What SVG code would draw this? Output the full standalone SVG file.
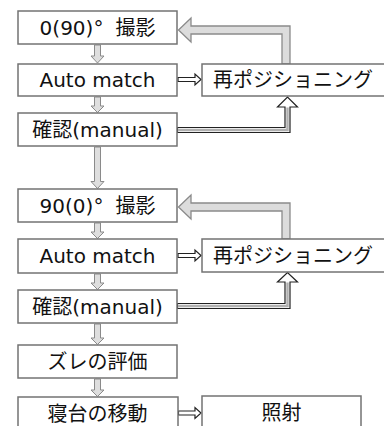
<svg xmlns="http://www.w3.org/2000/svg" width="384" height="426" viewBox="0 0 384 426">
<style>
.box{fill:#fff;stroke:#737373;stroke-width:1.5}
.t{font-family:"DejaVu Sans","Noto Sans CJK JP",sans-serif;font-size:20px;fill:#111;text-anchor:middle}
.down{fill:#dedede;stroke:#8a8a8a;stroke-width:1}
.fb{fill:#dcdcdc;stroke:#8a8a8a;stroke-width:1.3}
.dbl{fill:#fff;stroke:#222;stroke-width:1.2}
.mid{fill:none;stroke:#b0b0b0;stroke-width:2.4}
</style>
<rect width="384" height="426" fill="#fff"/>
<g id="connectors">
<polygon class="down" points="94.5,45 100.5,45 100.5,56 104,56 97.5,63 91,56 94.5,56"/>
<polygon class="down" points="94.5,97 100.5,97 100.5,106 104,106 97.5,112.5 91,106 94.5,106"/>
<polygon class="down" points="94.5,147 100.5,147 100.5,181.5 104,181.5 97.5,188.5 91,181.5 94.5,181.5"/>
<polygon class="down" points="94.5,223 100.5,223 100.5,232 104,232 97.5,238.5 91,232 94.5,232"/>
<polygon class="down" points="94.5,274 100.5,274 100.5,283 104,283 97.5,289.5 91,283 94.5,283"/>
<polygon class="down" points="94.5,324 100.5,324 100.5,338 104,338 97.5,344.5 91,338 94.5,338"/>
<polygon class="down" points="94.5,379 100.5,379 100.5,390 104,390 97.5,396.5 91,390 94.5,390"/>
<polygon class="fb" points="282,64 282,34 191,34 191,42 178.5,30 191,18 191,26 290,26 290,64"/>
<polygon class="fb" points="282,239 282,211 191,211 191,219 178.5,207 191,195 191,203 290,203 290,239"/>
<polygon class="dbl" points="178,77.5 195,77.5 195,74 201,79.5 195,85 195,81.5 178,81.5"/>
<polygon class="dbl" points="178,253.5 195,253.5 195,250 201,255.5 195,261 195,257.5 178,257.5"/>
<polygon class="dbl" points="178.5,411 195,411 195,407.5 201,413 195,418.5 195,415 178.5,415"/>
<polygon class="dbl" points="177.5,127.5 285,127.5 285,107 277.5,107 287.5,97 297.5,107 290,107 290,132.5 177.5,132.5"/>
<path class="mid" d="M178,130 H287.5 V107.5"/>
<polygon class="dbl" points="177.5,303.5 285,303.5 285,282 277.5,282 287.5,272.5 297.5,282 290,282 290,308.5 177.5,308.5"/>
<path class="mid" d="M178,306 H287.5 V282.5"/>
</g>
<g id="n1"><rect class="box" x="18" y="11" width="159" height="33"/><text class="t" x="97.5" y="34.5">0(90)°<tspan dx="12">撮影</tspan></text></g>
<g id="n2"><rect class="box" x="18" y="64" width="159" height="32"/><text class="t" x="97.5" y="87">Auto match</text></g>
<g id="n3"><rect class="box" x="18" y="113" width="159" height="33"/><text class="t" x="97.5" y="136.5">確認(manual)</text></g>
<g id="n4"><rect class="box" x="202" y="64" width="186" height="32"/><text class="t" x="293" y="87">再ポジショニング</text></g>
<g id="n5"><rect class="box" x="18" y="189" width="159" height="33"/><text class="t" x="97.5" y="212.5">90(0)°<tspan dx="12">撮影</tspan></text></g>
<g id="n6"><rect class="box" x="18" y="239" width="159" height="34"/><text class="t" x="97.5" y="263">Auto match</text></g>
<g id="n7"><rect class="box" x="18" y="290" width="159" height="33"/><text class="t" x="97.5" y="313.5">確認(manual)</text></g>
<g id="n8"><rect class="box" x="202" y="239" width="186" height="33"/><text class="t" x="293" y="262.5">再ポジショニング</text></g>
<g id="n9"><rect class="box" x="18" y="345" width="159" height="33"/><text class="t" x="97.5" y="368.5">ズレの評価</text></g>
<g id="n10"><rect class="box" x="18" y="397" width="160" height="34"/><text class="t" x="97.5" y="420.5">寝台の移動</text></g>
<g id="n11"><rect class="box" x="202" y="396" width="159" height="34"/><text class="t" x="281.5" y="420">照射</text></g>
</svg>
